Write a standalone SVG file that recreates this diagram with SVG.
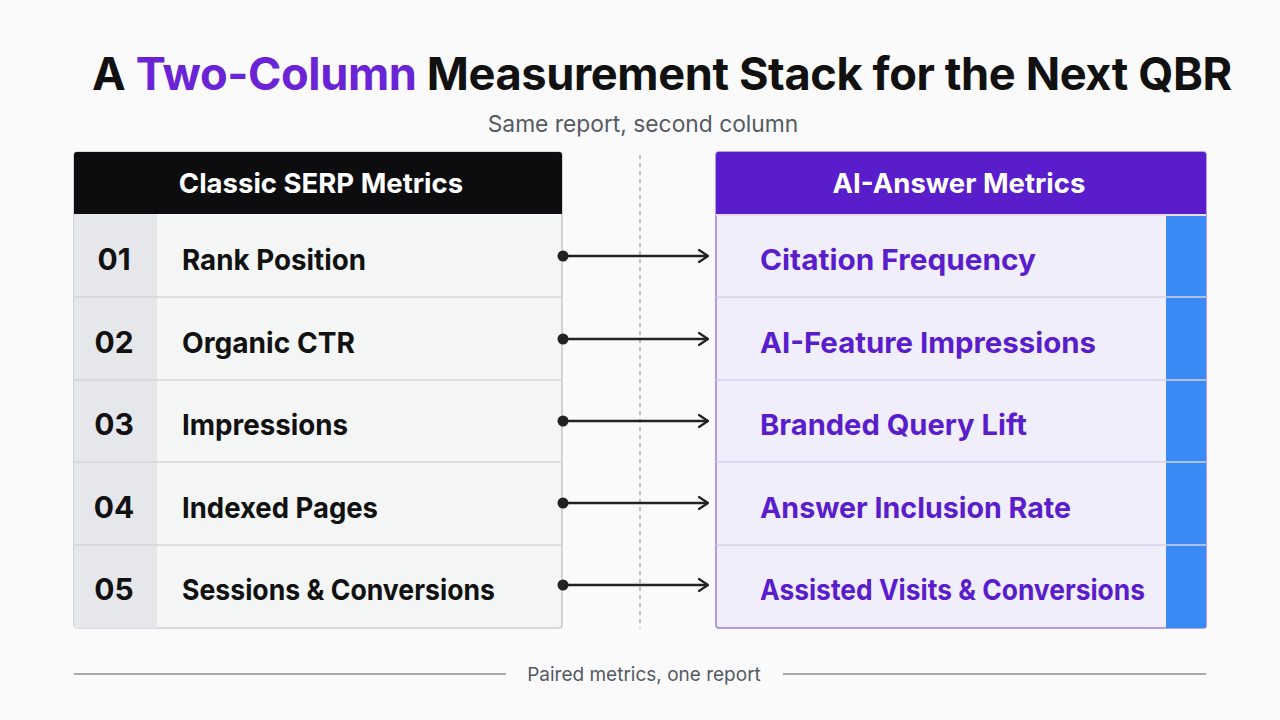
<svg xmlns="http://www.w3.org/2000/svg" width="1280" height="720" viewBox="0 0 1280 720">
<defs>
<style>
.title{font-family:Inter,"Liberation Sans",sans-serif;font-weight:700;font-size:45.2px;fill:#111;letter-spacing:-0.4px}
.sub{font-family:Inter,"Liberation Sans",sans-serif;font-size:22.8px;fill:#555a63}
.foot{font-family:Inter,"Liberation Sans",sans-serif;font-size:19px;fill:#555a63}
.hdr{font-family:Inter,"Liberation Sans",sans-serif;font-weight:700;font-size:27.5px;fill:#fff}
.num{font-family:Inter,"Liberation Sans",sans-serif;font-weight:700;font-size:30px;fill:#111}
.lbl{font-family:Inter,"Liberation Sans",sans-serif;font-weight:700;font-size:29px;fill:#111}
.plbl{font-family:Inter,"Liberation Sans",sans-serif;font-weight:700;font-size:29px;fill:#5a1dcc}
.sep{stroke:#d4d6d9;stroke-width:1.5}
.conn{stroke:#222;stroke-width:2.5;fill:none}
</style>
<marker id="arr" viewBox="0 0 12 14" refX="11" refY="7" markerWidth="12" markerHeight="14" markerUnits="userSpaceOnUse" orient="auto">
<path d="M2,1 L11,7 L2,13" fill="none" stroke="#222" stroke-width="2.2" stroke-linecap="round" stroke-linejoin="round"/>
</marker>
</defs>
<rect width="1280" height="720" fill="#fafafa"/>
<g id="title">
<text class="title" x="92" y="90">A <tspan fill="#6a24d6">Two-Column</tspan> Measurement Stack for the Next QBR</text>
<text class="sub" x="643" y="132" text-anchor="middle">Same report, second column</text>
</g>
<line x1="640" y1="155" x2="640" y2="628" stroke="#a9abae" stroke-width="1.5" stroke-dasharray="4 4"/>
<g id="left-table">
<rect x="74" y="152" width="488" height="476" rx="3" fill="#f4f5f5" stroke="#b9bbbe" stroke-width="1.2"/>
<rect x="74" y="214" width="83" height="414" fill="#e6e7ea"/>
<path d="M74,214 V155 a3,3 0 0 1 3,-3 H559 a3,3 0 0 1 3,3 V214 Z" fill="#0d0d0f"/>
<text class="hdr" x="321" y="193" text-anchor="middle">Classic SERP Metrics</text>
<line class="sep" x1="74" y1="297" x2="562" y2="297"/>
<line class="sep" x1="74" y1="380" x2="562" y2="380"/>
<line class="sep" x1="74" y1="462" x2="562" y2="462"/>
<line class="sep" x1="74" y1="545" x2="562" y2="545"/>
</g>
<g id="row-01"><text class="num" x="114" y="270" text-anchor="middle">01</text><text class="lbl" x="182" y="270" textLength="184" lengthAdjust="spacingAndGlyphs">Rank Position</text></g>
<g id="row-02"><text class="num" x="114" y="353" text-anchor="middle">02</text><text class="lbl" x="182" y="353" textLength="173" lengthAdjust="spacingAndGlyphs">Organic CTR</text></g>
<g id="row-03"><text class="num" x="114" y="435" text-anchor="middle">03</text><text class="lbl" x="182" y="435" textLength="166" lengthAdjust="spacingAndGlyphs">Impressions</text></g>
<g id="row-04"><text class="num" x="114" y="518" text-anchor="middle">04</text><text class="lbl" x="182" y="518" textLength="196" lengthAdjust="spacingAndGlyphs">Indexed Pages</text></g>
<g id="row-05"><text class="num" x="114" y="600" text-anchor="middle">05</text><text class="lbl" x="182" y="600" textLength="313" lengthAdjust="spacingAndGlyphs">Sessions &amp; Conversions</text></g>
<g id="right-table">
<rect x="716" y="152" width="490" height="476" rx="3" fill="#f1eefb" stroke="#9b7fe0" stroke-width="1.5"/>
<rect x="1166" y="214" width="40" height="414" fill="#3a8af5"/>
<path d="M716,214 V155 a3,3 0 0 1 3,-3 H1203 a3,3 0 0 1 3,3 V214 Z" fill="#5a1dcc"/>
<text class="hdr" x="959" y="193" text-anchor="middle">AI-Answer Metrics</text>
<line x1="716" y1="215" x2="1206" y2="215" stroke="#e6defa" stroke-width="2"/>
<line x1="716" y1="297" x2="1206" y2="297" stroke="#d6d0e6" stroke-width="1.5"/>
<line x1="716" y1="380" x2="1206" y2="380" stroke="#d6d0e6" stroke-width="1.5"/>
<line x1="716" y1="462" x2="1206" y2="462" stroke="#d6d0e6" stroke-width="1.5"/>
<line x1="716" y1="545" x2="1206" y2="545" stroke="#d6d0e6" stroke-width="1.5"/>
</g>
<g id="r-01"><text class="plbl" x="760" y="270" textLength="276" lengthAdjust="spacingAndGlyphs">Citation Frequency</text></g>
<g id="r-02"><text class="plbl" x="760" y="353" textLength="336" lengthAdjust="spacingAndGlyphs">AI-Feature Impressions</text></g>
<g id="r-03"><text class="plbl" x="760" y="435" textLength="267" lengthAdjust="spacingAndGlyphs">Branded Query Lift</text></g>
<g id="r-04"><text class="plbl" x="760" y="518" textLength="311" lengthAdjust="spacingAndGlyphs">Answer Inclusion Rate</text></g>
<g id="r-05"><text class="plbl" x="760" y="600" textLength="385" lengthAdjust="spacingAndGlyphs">Assisted Visits &amp; Conversions</text></g>
<g id="connectors">
<circle cx="563" cy="256" r="5.5" fill="#222"/><line class="conn" x1="563" y1="256" x2="708" y2="256" marker-end="url(#arr)"/>
<circle cx="563" cy="339" r="5.5" fill="#222"/><line class="conn" x1="563" y1="339" x2="708" y2="339" marker-end="url(#arr)"/>
<circle cx="563" cy="421" r="5.5" fill="#222"/><line class="conn" x1="563" y1="421" x2="708" y2="421" marker-end="url(#arr)"/>
<circle cx="563" cy="503" r="5.5" fill="#222"/><line class="conn" x1="563" y1="503" x2="708" y2="503" marker-end="url(#arr)"/>
<circle cx="563" cy="585" r="5.5" fill="#222"/><line class="conn" x1="563" y1="585" x2="708" y2="585" marker-end="url(#arr)"/>
</g>
<g id="footer">
<line x1="74" y1="674" x2="506" y2="674" stroke="#8d8f93" stroke-width="1.5"/>
<line x1="783" y1="674" x2="1206" y2="674" stroke="#8d8f93" stroke-width="1.5"/>
<text class="foot" x="644" y="681" text-anchor="middle">Paired metrics, one report</text>
</g>
</svg>
